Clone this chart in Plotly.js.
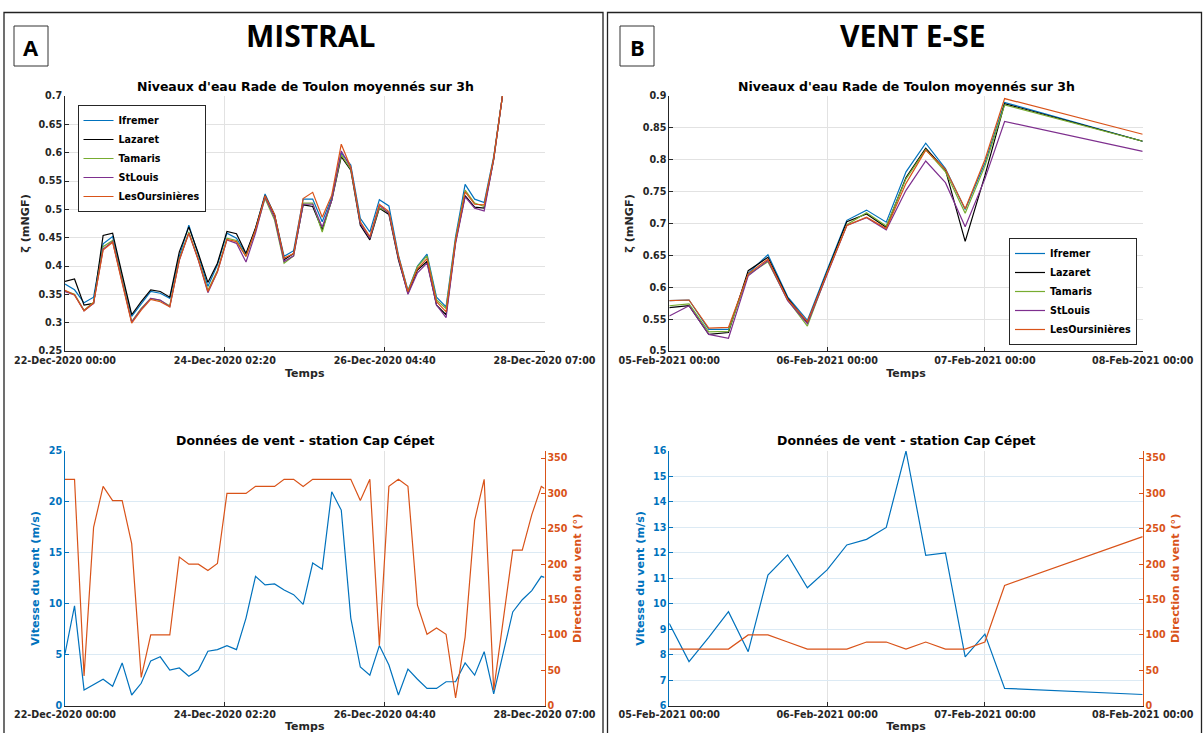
<!DOCTYPE html>
<html>
<head>
<meta charset="utf-8">
<script src="https://cdn.plot.ly/plotly-3.0.1.min.js"></script>
<style>
html,body{margin:0;padding:0;background:#fff;}
#chart{width:1204px;height:733px;}
</style>
</head>
<body>
<div id="chart"></div>
<script>
// ---------------- DATA ----------------
const stations = ['Ifremer', 'Lazaret', 'Tamaris', 'StLouis', 'LesOursinières'];
const stationColors = ['#0072BD', '#000000', '#77AC30', '#7E2F8E', '#D95319'];

// Panel A (Mistral) : start 22-Dec-2020 00:00, water levels every 3 h (hours since start)
const startA = '2020-12-22T00:00:00Z';
const hoursLevelA = [0,3,6,9,12,15,18,21,24,27,30,33,36,39,42,45,48,51,54,57,60,63,66,69,72,75,78,81,84,87,90,93,96,99,102,105,108,111,114,117,120,123,126,129,132,135,138];
const levelIfremerA = [0.368,0.358,0.335,0.345,0.439,0.452,0.380,0.311,0.333,0.355,0.352,0.343,0.417,0.472,0.419,0.364,0.402,0.458,0.449,0.421,0.466,0.527,0.490,0.417,0.427,0.518,0.518,0.478,0.521,0.599,0.578,0.484,0.460,0.517,0.506,0.419,0.357,0.400,0.421,0.345,0.328,0.452,0.544,0.518,0.512,0.593,0.710];
const levelLazaretA = [0.373,0.377,0.331,0.334,0.454,0.458,0.385,0.314,0.337,0.358,0.355,0.345,0.425,0.469,0.422,0.371,0.405,0.461,0.457,0.422,0.467,0.524,0.490,0.411,0.422,0.508,0.505,0.464,0.516,0.593,0.569,0.472,0.446,0.502,0.491,0.411,0.352,0.393,0.408,0.331,0.314,0.443,0.524,0.504,0.502,0.588,0.710];
const levelTamarisA = [0.356,0.350,0.322,0.336,0.434,0.445,0.375,0.302,0.325,0.343,0.339,0.330,0.412,0.460,0.412,0.357,0.392,0.449,0.445,0.417,0.462,0.519,0.481,0.405,0.418,0.511,0.511,0.460,0.517,0.596,0.571,0.477,0.450,0.503,0.494,0.416,0.355,0.399,0.418,0.340,0.325,0.447,0.534,0.511,0.505,0.590,0.710];
const levelStLouisA = [0.355,0.349,0.321,0.334,0.430,0.443,0.372,0.301,0.324,0.343,0.340,0.328,0.410,0.458,0.410,0.353,0.390,0.446,0.440,0.407,0.458,0.522,0.485,0.408,0.418,0.509,0.509,0.469,0.516,0.603,0.574,0.475,0.449,0.507,0.493,0.414,0.350,0.388,0.405,0.331,0.309,0.440,0.522,0.502,0.497,0.588,0.710];
const levelOursA = [0.357,0.349,0.321,0.335,0.428,0.442,0.370,0.299,0.322,0.341,0.337,0.328,0.411,0.458,0.411,0.355,0.390,0.447,0.443,0.417,0.464,0.524,0.491,0.414,0.422,0.519,0.530,0.486,0.525,0.615,0.574,0.478,0.452,0.509,0.496,0.417,0.355,0.395,0.413,0.337,0.319,0.445,0.531,0.509,0.508,0.590,0.710];

// Panel A wind (hours since start)
const hoursWindA = [0,3,6,9,12,15,18,21,24,27,30,33,36,39,42,45,48,51,54,57,60,63,66,69,72,75,78,81,84,87,90,93,96,99,102,105,108,111,114,117,120,123,126,129,132,135,138,141,144,147,150,151];
const windSpeedA = [5.1,9.8,1.55,2.05,2.6,1.9,4.2,1.05,2.2,4.4,4.8,3.5,3.7,2.9,3.5,5.35,5.5,5.9,5.5,8.6,12.7,11.85,11.95,11.35,10.9,9.95,14.0,13.4,21.0,19.2,8.6,3.8,3.0,5.9,4.0,1.05,3.6,2.6,1.7,1.7,2.35,2.35,4.2,3.0,5.3,1.15,5.1,9.2,10.4,11.3,12.7,12.6];
const windDirA = [320,320,42,252,310,290,290,229,40,100,100,100,210,200,200,191,201,300,300,300,310,310,310,320,320,310,320,320,320,320,320,290,320,85,310,320,310,142,101,110,101,11,97,262,320,22,120,220,220,270,310,307];

// Panel B (Vent E-SE) : start 05-Feb-2021 00:00 (hours since start)
const startB = '2021-02-05T00:00:00Z';
const hoursB = [0,3,6,9,12,15,18,21,24,27,30,33,36,39,42,45,48,51,72];
const levelIfremerB = [0.579,0.580,0.534,0.534,0.622,0.651,0.585,0.548,0.627,0.705,0.721,0.702,0.781,0.826,0.786,0.722,0.795,0.890,0.829];
const levelLazaretB = [0.568,0.571,0.526,0.529,0.626,0.647,0.583,0.544,0.624,0.703,0.715,0.694,0.772,0.818,0.784,0.672,0.775,0.888,0.829];
const levelTamarisB = [0.571,0.574,0.530,0.531,0.620,0.640,0.580,0.539,0.622,0.698,0.717,0.696,0.770,0.816,0.781,0.716,0.790,0.886,0.829];
const levelStLouisB = [0.555,0.571,0.526,0.520,0.618,0.642,0.579,0.543,0.620,0.697,0.709,0.690,0.752,0.798,0.764,0.695,0.770,0.860,0.813];
const levelOursB = [0.579,0.580,0.536,0.537,0.621,0.644,0.581,0.546,0.622,0.697,0.710,0.692,0.763,0.815,0.785,0.723,0.800,0.896,0.840];
const windSpeedB = [9.23,7.73,8.68,9.69,8.12,11.13,11.92,10.63,11.33,12.31,12.53,13.0,16.0,11.9,12.0,7.92,8.81,6.68,6.44];
const windDirB = [80,80,80,80,100,100,90,80,80,80,90,90,80,90,80,80,90,170,239];

// Tick labels
const tickValsA = ['2020-12-22 00:00', '2020-12-24 02:20', '2020-12-26 04:40', '2020-12-28 07:00'];
const tickTextA = ['22-Dec-2020 00:00', '24-Dec-2020 02:20', '26-Dec-2020 04:40', '28-Dec-2020 07:00'];
const tickValsB = ['2021-02-05 00:00', '2021-02-06 00:00', '2021-02-07 00:00', '2021-02-08 00:00'];
const tickTextB = ['05-Feb-2021 00:00', '06-Feb-2021 00:00', '07-Feb-2021 00:00', '08-Feb-2021 00:00'];

// ---------------- HELPERS ----------------
function toDates(start, hours) {
  const t0 = Date.parse(start);
  return hours.map(h => new Date(t0 + h * 3600000).toISOString().slice(0, 16).replace('T', ' '));
}
const W = 1204, H = 733;
const px = v => v / W;
const py = v => 1 - v / H;

const tA = toDates(startA, hoursLevelA);
const twA = toDates(startA, hoursWindA);
const tB = toDates(startB, hoursB);

const levelsA = [levelIfremerA, levelLazaretA, levelTamarisA, levelStLouisA, levelOursA];
const levelsB = [levelIfremerB, levelLazaretB, levelTamarisB, levelStLouisB, levelOursB];

const BLUE = '#0072BD', ORANGE = '#D95319', DARK = '#262626';
const FONT = 'DejaVu Sans, sans-serif';
const tickFont = c => ({family: FONT, size: 9.6, color: c, weight: 'bold'});

const traces = [];
levelsA.forEach((ys, i) => traces.push({
  type: 'scatter', mode: 'lines', x: tA, y: ys, name: stations[i],
  line: {color: stationColors[i], width: 1.2}, xaxis: 'x', yaxis: 'y', legend: 'legend'
}));
levelsB.forEach((ys, i) => traces.push({
  type: 'scatter', mode: 'lines', x: tB, y: ys, name: stations[i],
  line: {color: stationColors[i], width: 1.2}, xaxis: 'x2', yaxis: 'y2', legend: 'legend2'
}));
traces.push({type: 'scatter', mode: 'lines', x: twA, y: windSpeedA, name: 'Vitesse', showlegend: false,
  line: {color: BLUE, width: 1.2}, xaxis: 'x3', yaxis: 'y3'});
traces.push({type: 'scatter', mode: 'lines', x: twA, y: windDirA, name: 'Direction', showlegend: false,
  line: {color: ORANGE, width: 1.2}, xaxis: 'x3', yaxis: 'y4'});
traces.push({type: 'scatter', mode: 'lines', x: tB, y: windSpeedB, name: 'Vitesse', showlegend: false,
  line: {color: BLUE, width: 1.2}, xaxis: 'x4', yaxis: 'y5'});
traces.push({type: 'scatter', mode: 'lines', x: tB, y: windDirB, name: 'Direction', showlegend: false,
  line: {color: ORANGE, width: 1.2}, xaxis: 'x4', yaxis: 'y6'});

const GRID = '#e2e2e2';
function xAxis(domain, anchor, range, vals, text) {
  return {
    type: 'date', domain: domain, anchor: anchor, range: range,
    tickmode: 'array', tickvals: vals, ticktext: text, tickangle: 0,
    showgrid: true, gridcolor: GRID, gridwidth: 1, zeroline: false,
    showline: true, linecolor: DARK, linewidth: 1,
    ticks: 'inside', ticklen: 4, tickcolor: DARK,
    tickfont: tickFont(DARK),
    title: {text: 'Temps', font: {family: FONT, size: 11, color: DARK, weight: 'bold'}, standoff: 4}
  };
}
function yAxis(domain, anchor, range, dtick, color, title, grid, extra) {
  return Object.assign({
    domain: domain, anchor: anchor, range: range, dtick: dtick, tick0: 0,
    showgrid: true, gridcolor: grid, gridwidth: 1, zeroline: false,
    showline: true, linecolor: color, linewidth: 1,
    ticks: 'inside', ticklen: 4, tickcolor: color,
    tickfont: tickFont(color),
    title: {text: title, font: {family: FONT, size: 11.2, color: color, weight: 'bold'}, standoff: 6}
  }, extra || {});
}

const xdomA = [px(65), px(544.5)];
const xdomB = [px(669.3), px(1142.7)];
const ydomTop = [py(351), py(96)];
const ydomBot = [py(705.7), py(451)];
const rangeA = ['2020-12-22 00:00', '2020-12-28 07:00'];
const rangeB = ['2021-02-05 00:00', '2021-02-08 00:00'];
const BLUEGRID = '#dceaf4';

const layout = {
  width: W, height: H,
  margin: {l: 0, r: 0, t: 0, b: 0},
  paper_bgcolor: '#ffffff', plot_bgcolor: '#ffffff',
  font: {family: FONT, color: DARK},
  xaxis: xAxis(xdomA, 'y', rangeA, tickValsA, tickTextA),
  xaxis2: xAxis(xdomB, 'y2', rangeB, tickValsB, tickTextB),
  xaxis3: xAxis(xdomA, 'y3', rangeA, tickValsA, tickTextA),
  xaxis4: xAxis(xdomB, 'y5', rangeB, tickValsB, tickTextB),
  yaxis: yAxis(ydomTop, 'x', [0.25, 0.7], 0.05, DARK, 'ζ (mNGF)', GRID),
  yaxis2: yAxis(ydomTop, 'x2', [0.5, 0.9], 0.05, DARK, 'ζ (mNGF)', GRID),
  yaxis3: yAxis(ydomBot, 'x3', [0, 25], 5, BLUE, 'Vitesse du vent (m/s)', BLUEGRID),
  yaxis4: yAxis(ydomBot, 'x3', [0, 360], 50, ORANGE, 'Direction du vent (°)', BLUEGRID,
    {overlaying: 'y3', side: 'right', showgrid: false}),
  yaxis5: yAxis(ydomBot, 'x4', [6, 16], 1, BLUE, 'Vitesse du vent (m/s)', BLUEGRID),
  yaxis6: yAxis(ydomBot, 'x4', [0, 360], 50, ORANGE, 'Direction du vent (°)', BLUEGRID,
    {overlaying: 'y5', side: 'right', showgrid: false}),
  legend: {
    x: px(77.5), y: py(105), xanchor: 'left', yanchor: 'top',
    bgcolor: '#ffffff', bordercolor: DARK, borderwidth: 1,
    font: {family: FONT, size: 9.6, color: '#000', weight: 'bold'},
    tracegroupgap: 0, itemwidth: 30
  },
  legend2: {
    x: px(1137), y: py(345), xanchor: 'right', yanchor: 'bottom',
    bgcolor: '#ffffff', bordercolor: DARK, borderwidth: 1,
    font: {family: FONT, size: 9.6, color: '#000', weight: 'bold'},
    tracegroupgap: 0, itemwidth: 30
  },
  shapes: [
    {type: 'rect', xref: 'paper', yref: 'paper', x0: px(4), x1: px(603), y0: py(760), y1: py(12.5),
      line: {color: '#222', width: 1.3}, fillcolor: 'rgba(0,0,0,0)', layer: 'below'},
    {type: 'rect', xref: 'paper', yref: 'paper', x0: px(607.5), x1: px(1201.5), y0: py(760), y1: py(12.5),
      line: {color: '#222', width: 1.3}, fillcolor: 'rgba(0,0,0,0)', layer: 'below'},
    {type: 'rect', xref: 'paper', yref: 'paper', x0: px(14), x1: px(48), y0: py(66), y1: py(26),
      line: {color: '#333', width: 1}, fillcolor: 'rgba(0,0,0,0)'},
    {type: 'rect', xref: 'paper', yref: 'paper', x0: px(620), x1: px(654), y0: py(66), y1: py(26),
      line: {color: '#333', width: 1}, fillcolor: 'rgba(0,0,0,0)'}
  ],
  annotations: [
    {text: 'MISTRAL', x: px(311), y: py(36), xref: 'paper', yref: 'paper', showarrow: false,
      xanchor: 'center', yanchor: 'middle', font: {family: 'Open Sans, sans-serif', size: 30, color: '#000', weight: 'bold'}},
    {text: 'VENT E-SE', x: px(913), y: py(36), xref: 'paper', yref: 'paper', showarrow: false,
      xanchor: 'center', yanchor: 'middle', font: {family: 'Open Sans, sans-serif', size: 30, color: '#000', weight: 'bold'}},
    {text: 'A', x: px(31), y: py(46.5), xref: 'paper', yref: 'paper', showarrow: false,
      xanchor: 'center', yanchor: 'middle', font: {family: 'Open Sans, sans-serif', size: 22, color: '#000', weight: 'bold'}},
    {text: 'B', x: px(637), y: py(46.5), xref: 'paper', yref: 'paper', showarrow: false,
      xanchor: 'center', yanchor: 'middle', font: {family: 'Open Sans, sans-serif', size: 22, color: '#000', weight: 'bold'}},
    {text: "Niveaux d'eau Rade de Toulon moyennés sur 3h", x: px(305), y: py(86), xref: 'paper', yref: 'paper',
      showarrow: false, xanchor: 'center', yanchor: 'middle', font: {family: FONT, size: 12.5, color: '#000', weight: 'bold'}},
    {text: "Niveaux d'eau Rade de Toulon moyennés sur 3h", x: px(906), y: py(86), xref: 'paper', yref: 'paper',
      showarrow: false, xanchor: 'center', yanchor: 'middle', font: {family: FONT, size: 12.5, color: '#000', weight: 'bold'}},
    {text: 'Données de vent - station Cap Cépet', x: px(305), y: py(440), xref: 'paper', yref: 'paper',
      showarrow: false, xanchor: 'center', yanchor: 'middle', font: {family: FONT, size: 12.5, color: '#000', weight: 'bold'}},
    {text: 'Données de vent - station Cap Cépet', x: px(906), y: py(440), xref: 'paper', yref: 'paper',
      showarrow: false, xanchor: 'center', yanchor: 'middle', font: {family: FONT, size: 12.5, color: '#000', weight: 'bold'}}
  ]
};

Plotly.newPlot('chart', traces, layout, {displayModeBar: false, responsive: false});
</script>
</body>
</html>
